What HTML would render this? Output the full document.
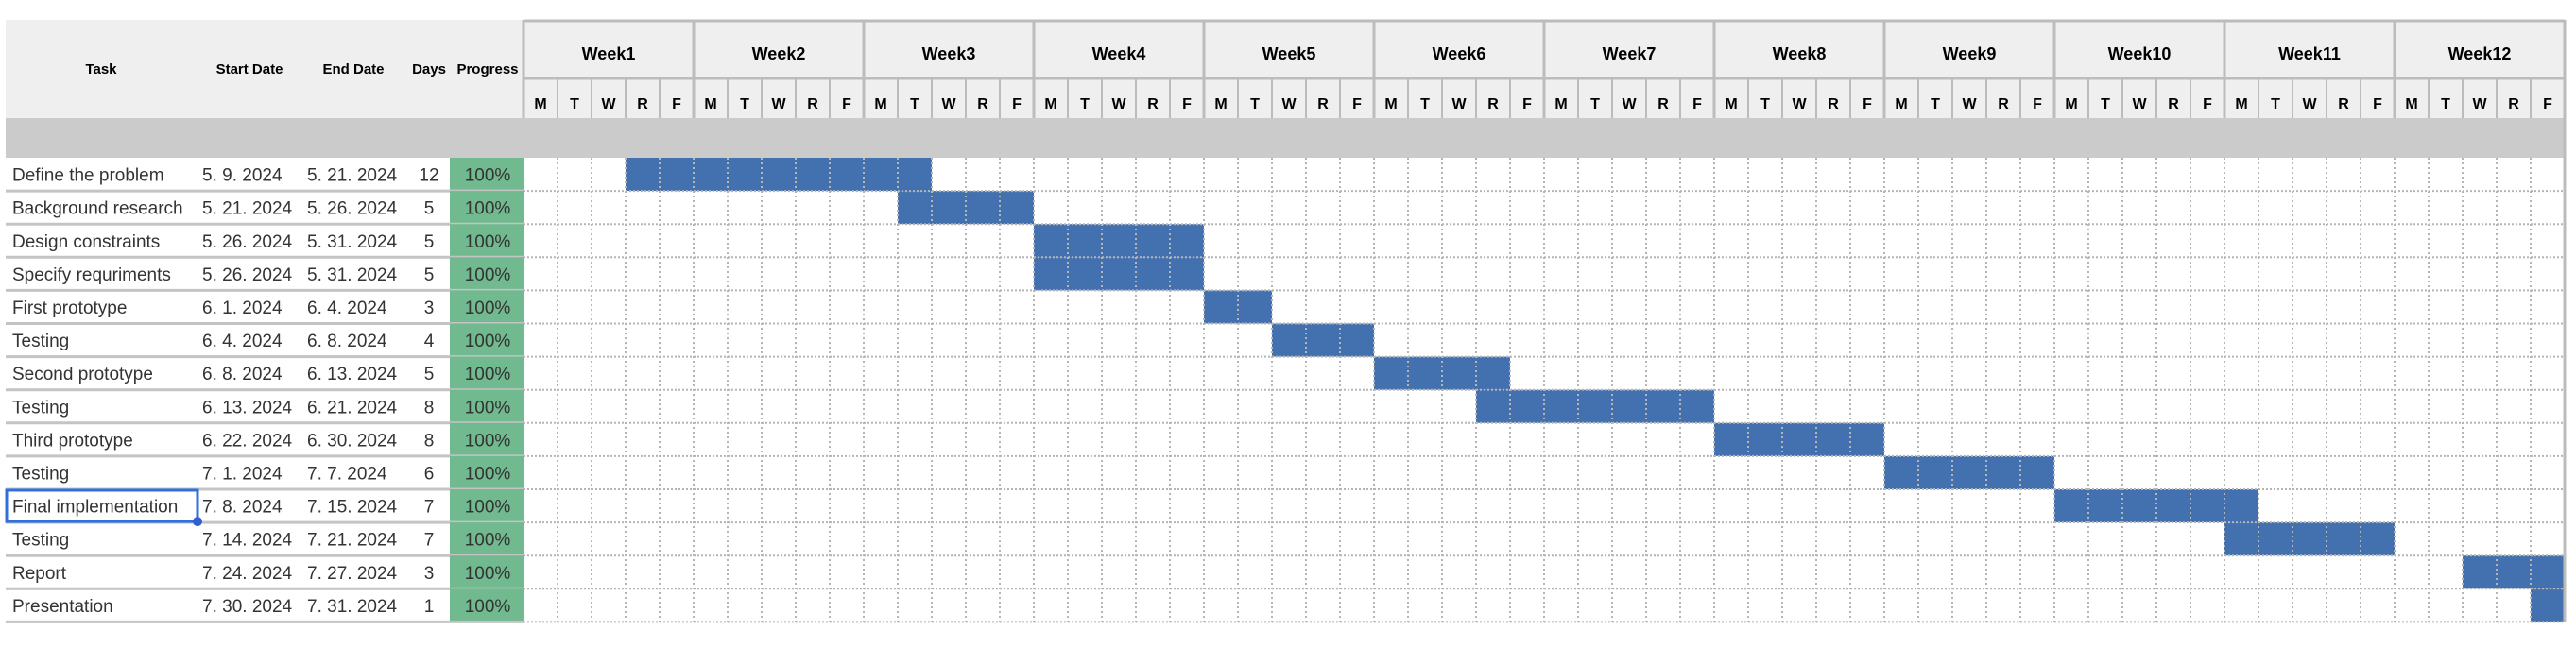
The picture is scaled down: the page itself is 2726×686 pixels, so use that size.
<!DOCTYPE html>
<html><head><meta charset="utf-8"><style>
html,body{margin:0;padding:0;background:#fff;width:2726px;height:686px;overflow:hidden}
svg{display:block}
</style></head><body>
<svg id="chart" width="2726" height="686" xmlns="http://www.w3.org/2000/svg" font-family="Liberation Sans, sans-serif">
<g id="bg"></g>
<g id="bars"></g>
<g id="grid"></g>
<g id="head"></g>
<g id="table"></g>
</svg>
<script>
const tasks = ["Define the problem","Background research","Design constraints","Specify requriments","First prototype","Testing","Second prototype","Testing","Third prototype","Testing","Final implementation","Testing","Report","Presentation"];
const startDates = ["5. 9. 2024","5. 21. 2024","5. 26. 2024","5. 26. 2024","6. 1. 2024","6. 4. 2024","6. 8. 2024","6. 13. 2024","6. 22. 2024","7. 1. 2024","7. 8. 2024","7. 14. 2024","7. 24. 2024","7. 30. 2024"];
const endDates = ["5. 21. 2024","5. 26. 2024","5. 31. 2024","5. 31. 2024","6. 4. 2024","6. 8. 2024","6. 13. 2024","6. 21. 2024","6. 30. 2024","7. 7. 2024","7. 15. 2024","7. 21. 2024","7. 27. 2024","7. 31. 2024"];
const days = [12,5,5,5,3,4,5,8,8,6,7,7,3,1];
const progress = ["100%","100%","100%","100%","100%","100%","100%","100%","100%","100%","100%","100%","100%","100%"];
const barStart = [3,11,15,15,20,22,25,28,35,40,45,50,57,59];
const barEnd = [11,14,19,19,21,24,28,34,39,44,50,54,59,59];
const weeks = ["Week1","Week2","Week3","Week4","Week5","Week6","Week7","Week8","Week9","Week10","Week11","Week12"];
const dayLetters = ["M","T","W","R","F"];

const NS="http://www.w3.org/2000/svg";
const L=6, GX=554, DW=36, TOP=21, WROW=83, DROW=125, BAND=167, RH=35.1;
const nDays=weeks.length*5, GR=GX+nDays*DW;
const bottom=BAND+tasks.length*RH;
const xDay=d=>GX+d*DW;
const yRow=i=>BAND+i*RH;
function el(tag,attrs,parent,text){const e=document.createElementNS(NS,tag);for(const k in attrs)e.setAttribute(k,attrs[k]);if(text!==undefined)e.textContent=text;parent.appendChild(e);return e;}
const bg=document.getElementById('bg'),grid=document.getElementById('grid'),bars=document.getElementById('bars'),head=document.getElementById('head'),table=document.getElementById('table');

let r=el('rect',{x:L,y:TOP,width:GR-L,height:DROW-TOP,fill:'#efefef'},head);

r=el('rect',{x:L,y:DROW,width:GR-L,height:BAND-DROW,fill:'#cbcbcb'},head);

el('line',{x1:GX,y1:TOP+1,x2:GR,y2:TOP+1,stroke:'#bcbcbc','stroke-width':3},head);
el('line',{x1:GX,y1:WROW,x2:GR,y2:WROW,stroke:'#bcbcbc','stroke-width':3},head);
el('line',{x1:GR,y1:TOP,x2:GR,y2:bottom,stroke:'#bcbcbc','stroke-width':3},head);
const colHeads=[["Task",107],["Start Date",264],["End Date",374],["Days",454],["Progress",516]];
colHeads.forEach(c=>{const t=el('text',{x:c[1],y:78,'text-anchor':'middle','font-size':15,'font-weight':'bold',fill:'#000'},head,c[0]);
});
weeks.forEach((w,i)=>{
  el('line',{x1:xDay(i*5),y1:TOP,x2:xDay(i*5),y2:DROW,stroke:'#bcbcbc','stroke-width':3},head);
  const t=el('text',{x:xDay(i*5+2.5),y:63,'text-anchor':'middle','font-size':18,'font-weight':'bold',fill:'#000'},head,w);
  
  dayLetters.forEach((d,j)=>{const k=i*5+j;
    if(j>0)el('line',{x1:xDay(k),y1:WROW,x2:xDay(k),y2:DROW,stroke:'#bcbcbc','stroke-width':2},head);
    const dt=el('text',{x:xDay(k+0.5),y:115,'text-anchor':'middle','font-size':16,'font-weight':'bold',fill:'#000'},head,d);
    });
});
tasks.forEach((t,i)=>{const b=el('rect',{x:xDay(barStart[i]),y:yRow(i),width:(barEnd[i]-barStart[i]+1)*DW,height:RH,fill:'#4371af'},bars);
  });
for(let k=1;k<nDays;k++)el('line',{x1:xDay(k),y1:BAND,x2:xDay(k),y2:bottom,stroke:'#b5b5b5','stroke-width':2,'stroke-dasharray':'2,3'},grid);
for(let i=1;i<=tasks.length;i++)el('line',{x1:GX,y1:yRow(i),x2:GR,y2:yRow(i),stroke:'#b5b5b5','stroke-width':2,'stroke-dasharray':'2,2'},grid);
el('line',{x1:GX,y1:BAND,x2:GX,y2:bottom,stroke:'#bcbcbc','stroke-width':2},grid);
tasks.forEach((t,i)=>{const y=yRow(i), ty=y+RH/2+7;
  const g=el('g',{},table);
  el('rect',{x:476,y:y,width:GX-476,height:RH,fill:'#71b98f'},g);
  el('line',{x1:L,y1:y+RH,x2:GX,y2:y+RH,stroke:'#c4c4c4','stroke-width':3},g);
  let e=el('text',{x:13,y:ty,'font-size':19,fill:'#333'},g,t);
  e=el('text',{x:214,y:ty,'font-size':19,fill:'#333'},g,startDates[i]);
  e=el('text',{x:325,y:ty,'font-size':19,fill:'#333'},g,endDates[i]);
  e=el('text',{x:454,y:ty,'font-size':19,fill:'#333','text-anchor':'middle'},g,days[i]);
  e=el('text',{x:516,y:ty,'font-size':19,fill:'#333','text-anchor':'middle'},g,progress[i]);
});
const sy=yRow(10);
const sel=el('rect',{x:L+1,y:sy+1,width:202,height:RH-2,fill:'none',stroke:'#2f6fde','stroke-width':3},table);

const h=el('circle',{cx:L+203,cy:sy+RH-1,r:5,fill:'#2f5fd0'},table);

</script>
</body></html>
